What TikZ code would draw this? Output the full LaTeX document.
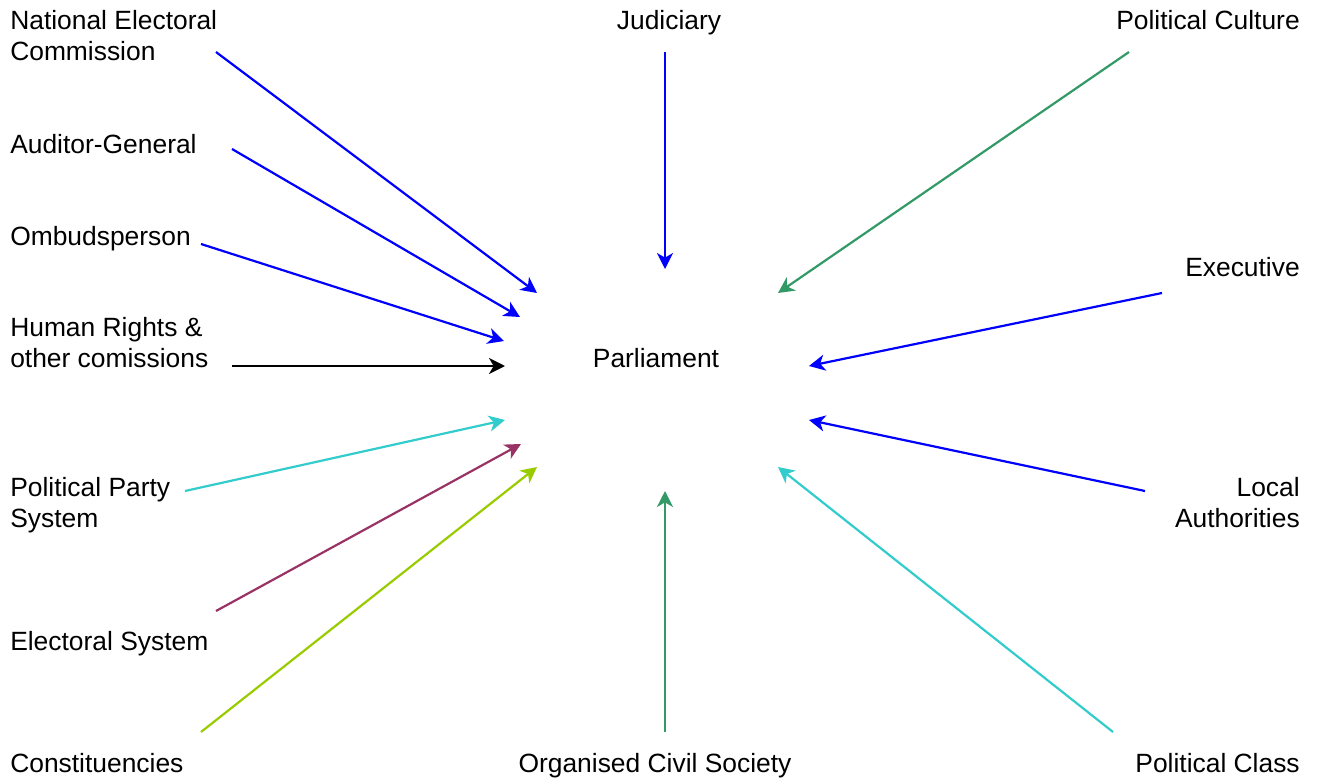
\documentclass[tikz,border=0pt]{standalone}
\usepackage{fontspec}
\setmainfont{Liberation Sans}
\usetikzlibrary{arrows.meta}
\definecolor{cblue}{RGB}{0,0,255}
\definecolor{cgreen}{RGB}{51,153,102}
\definecolor{ccyan}{RGB}{51,204,204}
\definecolor{cpurple}{RGB}{153,51,102}
\definecolor{clime}{RGB}{153,204,0}
\tikzset{
  lbl/.style={inner sep=0pt, font=\fontsize{19.8}{23.3}\selectfont},
  lbll/.style={lbl, anchor=west, align=left},
  lblr/.style={lbl, anchor=east, align=right},
  lblc/.style={lbl, anchor=center, align=center},
  conn/.style={line width=1.65pt, -{Stealth[length=12pt, width=12pt, inset=3.5pt]}},
}
\begin{document}
\begin{tikzpicture}[x=0.75pt, y=-0.75pt]
\useasboundingbox (0,0) rectangle (1318,778);
% labels
\node[lbll] (nec) at (10,35.5) {National Electoral\\Commission};
\node[lbll] (ag) at (10,144) {Auditor-General};
\node[lbll] (omb) at (10,239) {Ombudsperson};
\node[lbll] (hr) at (10,343) {Human Rights \&\\other comissions};
\node[lbll] (pps) at (10,505.5) {Political Party\\System};
\node[lbll] (es) at (10,644) {Electoral System};
\node[lbll] (con) at (10,763) {Constituencies};
\node[lblc] (jud) at (669,23) {Judiciary};
\node[lblc] (par) at (656,358) {Parliament};
\node[lblc] (ocs) at (655,766) {Organised Civil Society};
\node[lblr] (pc) at (1300,20) {Political Culture};
\node[lblr] (exe) at (1300,267) {Executive};
\node[lblr] (la) at (1300,502.5) {Local\\Authorities};
\node[lblr] (pcl) at (1300,763) {Political Class};
% connector ends
\coordinate (necS) at (216,52);   \coordinate (necE) at (537,293);
\coordinate (agS) at (232,149);   \coordinate (agE) at (520,317);
\coordinate (ombS) at (201,244);  \coordinate (ombE) at (504,341);
\coordinate (hrS) at (232,366);   \coordinate (hrE) at (505,366);
\coordinate (ppsS) at (185,491);  \coordinate (ppsE) at (505,420);
\coordinate (esS) at (216,611);   \coordinate (esE) at (521,444);
\coordinate (conS) at (201,732);  \coordinate (conE) at (537,467);
\coordinate (judS) at (665,52);   \coordinate (judE) at (665,269);
\coordinate (ocsS) at (665,732);  \coordinate (ocsE) at (665,491);
\coordinate (pcS) at (1129,52);   \coordinate (pcE) at (778,293);
\coordinate (exeS) at (1162,293); \coordinate (exeE) at (809,366);
\coordinate (laS) at (1145,491);  \coordinate (laE) at (809,420);
\coordinate (pclS) at (1113,732); \coordinate (pclE) at (778,467);
% connectors
\draw[conn, cblue] (necS) -- (necE);
\draw[conn, cblue] (agS) -- (agE);
\draw[conn, cblue] (ombS) -- (ombE);
\draw[conn, black] (hrS) -- (hrE);
\draw[conn, ccyan] (ppsS) -- (ppsE);
\draw[conn, cpurple] (esS) -- (esE);
\draw[conn, clime] (conS) -- (conE);
\draw[conn, cblue] (judS) -- (judE);
\draw[conn, cgreen] (ocsS) -- (ocsE);
\draw[conn, cgreen] (pcS) -- (pcE);
\draw[conn, cblue] (exeS) -- (exeE);
\draw[conn, cblue] (laS) -- (laE);
\draw[conn, ccyan] (pclS) -- (pclE);
\end{tikzpicture}
\end{document}
